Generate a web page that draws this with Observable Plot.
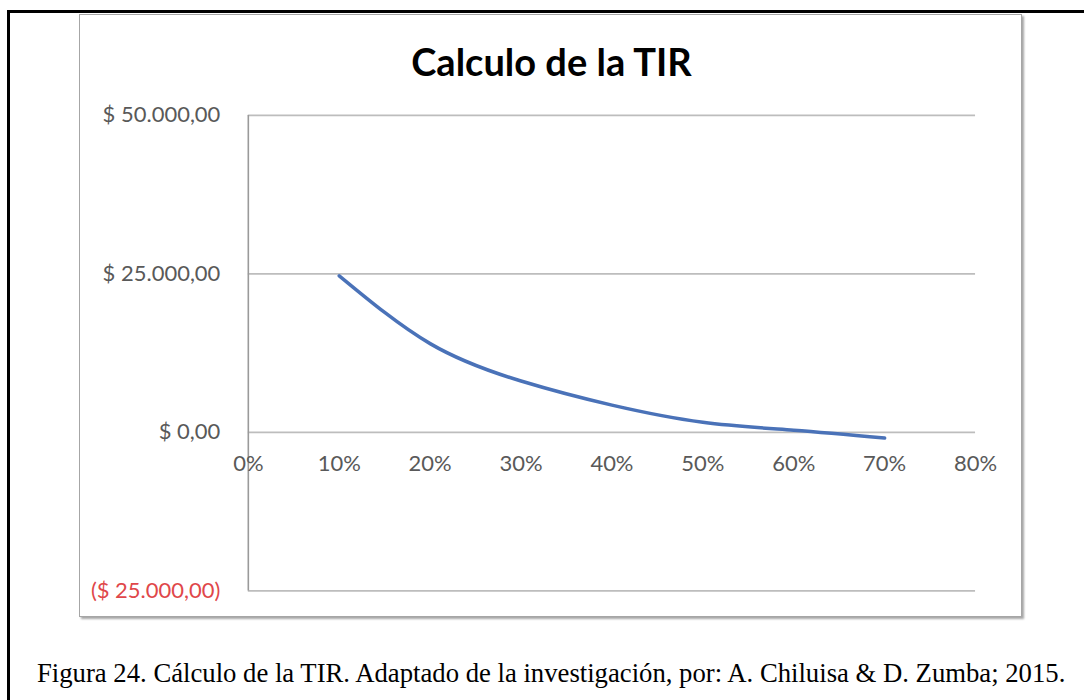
<!DOCTYPE html>
<html>
<head>
<meta charset="utf-8">
<script src="https://cdn.jsdelivr.net/npm/d3@7"></script>
<script src="https://cdn.jsdelivr.net/npm/@observablehq/plot@0.6"></script>
<style>
  html, body { margin: 0; padding: 0; background: #fff; width: 1084px; height: 700px; overflow: hidden; }
  #frame { position: absolute; left: 7px; top: 10px; width: 1100px; height: 720px;
           border-top: 3px solid #000; border-left: 3px solid #000; }
  #chartbox { position: absolute; left: 79px; top: 14px; width: 941px; height: 601px;
              border: 1px solid #a6a6a6; background: #fff;
              box-shadow: 2px 2px 2px rgba(0,0,0,0.35); }
  #title { position: absolute; left: 0; width: 943px; top: 27px; text-align: center;
           font-family: Lato, sans-serif; font-weight: bold; font-size: 38px; line-height: 38px; color: #000; }
  #plot { position: absolute; left: -1px; top: -1px; }
  #caption { position: absolute; left: 37px; top: 658px; font-family: "Liberation Serif", "Times New Roman", serif;
             font-size: 26.7px; line-height: 30px; color: #000; white-space: nowrap; }
</style>
</head>
<body>
<div id="frame"></div>
<div id="chartbox">
  <div id="plot"></div>
  <div id="title">Calculo de la TIR</div>
</div>
<div id="caption">Figura 24. Cálculo de la TIR. Adaptado de la investigación, por: A. Chiluisa &amp; D. Zumba; 2015.</div>
<script>
// Data
const rates = [0.10, 0.20, 0.30, 0.40, 0.50, 0.60, 0.70];
const npv = [24700, 14000, 8100, 4300, 1600, 330, -900];
const yTicks = [50000, 25000, 0, -25000];
const xTicks = [0, 0.1, 0.2, 0.3, 0.4, 0.5, 0.6, 0.7, 0.8];

const data = rates.map((r, i) => ({rate: r, value: npv[i]}));

const money = v => {
  const s = "$ " + d3.format(",.2f")(Math.abs(v)).replace(/,/g, "X").replace(/\./g, ",").replace(/X/g, ".");
  return v < 0 ? "(" + s + ")" : s;
};
const pct = v => Math.round(v * 100) + "%";

const chart = Plot.plot({
  width: 943,
  height: 603,
  marginLeft: 169,
  marginRight: 46,
  marginTop: 101,
  marginBottom: 26,
  style: {fontFamily: "Lato, sans-serif", fontSize: "22px", background: "transparent", overflow: "visible"},
  x: {domain: [0, 0.8], axis: null},
  y: {domain: [-25000, 50000], axis: null},
  marks: [
    Plot.gridY(yTicks, {stroke: "#bdbdbd", strokeOpacity: 1, strokeWidth: 1.6}),
    Plot.ruleX([0], {y1: -25000, y2: 50000, stroke: "#9a9a9a", strokeWidth: 1.6}),
    Plot.axisY(yTicks.filter(v => v >= 0), {label: null, tickSize: 0, tickPadding: 28, tickFormat: money, fill: "#595959", fontSize: 22}),
    Plot.axisY(yTicks.filter(v => v < 0), {label: null, tickSize: 0, tickPadding: 28, tickFormat: money, fill: "#e0474a", fontSize: 22}),
    Plot.text(xTicks, {x: d => d, y: () => 0, dy: 32, text: pct, fill: "#595959", fontSize: 22}),
    Plot.line(data, {x: "rate", y: "value", curve: "natural", stroke: "#4a72b8", strokeWidth: 3.5})
  ]
});
document.getElementById("plot").appendChild(chart);
</script>
</body>
</html>
